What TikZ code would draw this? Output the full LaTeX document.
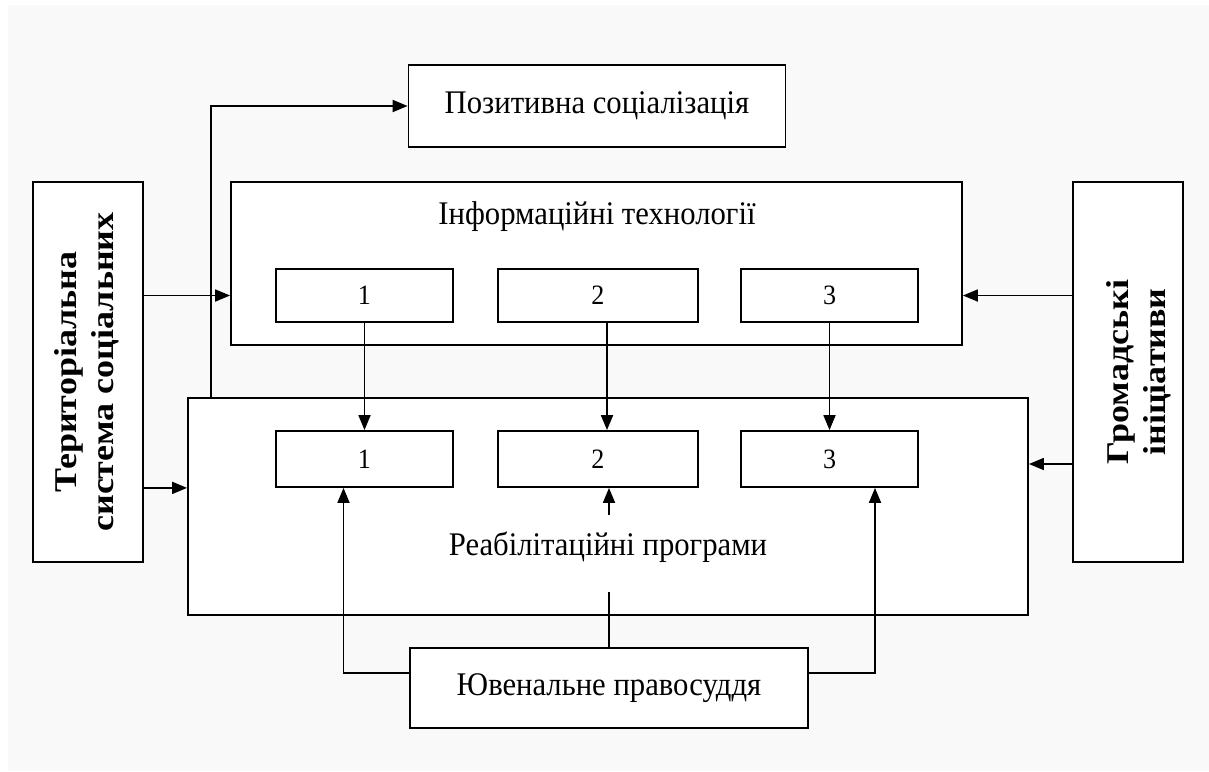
\documentclass[tikz,border=0pt]{standalone}
\usepackage{fontspec}
\setmainfont{Liberation Serif}
\usetikzlibrary{positioning,arrows.meta}
\definecolor{bggray}{HTML}{F9F9F9}
\newcommand{\squeeze}[1]{\scalebox{0.93}[1]{#1}}
\newcommand{\sidetext}[2]{\rotatebox{90}{\scalebox{1}[0.88]{\begin{tabular}{@{}c@{}}#1\\[4pt]#2\end{tabular}}}}

\begin{document}
\begin{tikzpicture}[x=1pt, y=-1pt, line width=1.8pt,
  box/.style={draw, fill=white, shape=rectangle, inner sep=0pt},
  head/.style={font=\fontsize{33}{36}\selectfont},
  num/.style={font=\fontsize{28}{30}\selectfont},
  side/.style={font=\fontsize{36}{38}\selectfont\bfseries},
  arr/.style={-{Triangle[length=15pt,width=12pt]}}]
		\useasboundingbox (0,0) rectangle (1209,771);
		\fill[bggray] (8,5) rectangle (1209,771);
		% side boxes
		\node (terr) at (88,372) [box, minimum width=110pt, minimum height=380pt, side]
			{\sidetext{Територіальна}{система соціальних}};
		\node (grom) at (1128,372) [box, minimum width=110pt, minimum height=380pt] {};
		\node (gromtitle) at (1140,372) [side] {\sidetext{Громадські}{ініціативи}};
		% top
		\node (pozit) at (597,106) [box, minimum width=377pt, minimum height=82pt, head] {\squeeze{Позитивна соціалізація}};
		\node (info) at (596.5,263.5) [box, minimum width=731pt, minimum height=163pt] {};
		\node (infotitle) at (597,217) [head] {\squeeze{Інформаційні технології}};
		\node (t1) at (364.5,295.5) [box, minimum width=177pt, minimum height=53pt, num] {\squeeze{1}};
		\node (t2) at (598,295.5) [box, minimum width=200pt, minimum height=53pt, num] {\squeeze{2}};
		\node (t3) at (829.5,295.5) [box, minimum width=177pt, minimum height=53pt, num] {\squeeze{3}};
		% rehab
		\node (rehab) at (608,506.5) [box, minimum width=840pt, minimum height=217pt] {};
		\node (rehabtitle) at (608,547) [head] {\squeeze{Реабілітаційні програми}};
		\node (b1) at (364.5,459) [box, minimum width=177pt, minimum height=56pt, num] {\squeeze{1}};
		\node (b2) at (598,459) [box, minimum width=200pt, minimum height=56pt, num] {\squeeze{2}};
		\node (b3) at (829.5,459) [box, minimum width=177pt, minimum height=56pt, num] {\squeeze{3}};
		\node (juv) at (609,688) [box, minimum width=398pt, minimum height=80pt, head] {\squeeze{Ювенальне правосуддя}};
		% connectors
		\draw[arr] (terr.east |- t1) -- (info.west |- t1);
		\draw[arr] (terr.east |- b1.south) -- (rehab.west |- b1.south);
		\draw[arr] (grom.west |- t3) -- (info.east |- t3);
		\draw[arr] ([yshift=-5pt]grom.west |- b3) -- ([yshift=-5pt]rehab.east |- b3);
		\draw[arr] ([xshift=24pt]rehab.north west) |- (pozit.west);
		\draw[arr] (t1) -- (b1);
		\draw[arr] ([xshift=9pt]t2.south) -- ([xshift=9pt]b2.north);
		\draw[arr] (t3) -- (b3);
		\draw[arr] ([yshift=15pt]juv.west) -| ([xshift=-21pt]b1.south);
		\draw[arr] ([yshift=15pt]juv.east) -| ([xshift=45.5pt]b3.south);
		\draw (juv.north) -- ++(0,-55);
		\draw[arr] ([yshift=-27pt]b2.south -| juv.north) -- (b2.south -| juv.north);
\end{tikzpicture}
\end{document}
